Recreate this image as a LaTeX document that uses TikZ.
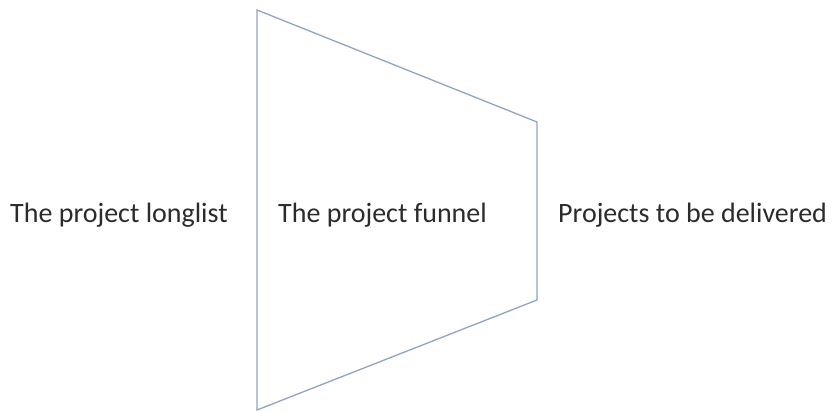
\documentclass[tikz,border=0pt]{standalone}
\usepackage{fontspec}
\setmainfont{Carlito}
\begin{document}
\begin{tikzpicture}[x=1pt,y=-1pt,
  edge/.style={draw=funnelblue, line width=1.3pt, line join=miter},
  label/.style={font=\fontsize{28}{32}\selectfont, text=labelgray, anchor=base west, inner sep=0pt}]
\definecolor{funnelblue}{HTML}{8FA3C4}
\definecolor{labelgray}{HTML}{2B2B2B}
\useasboundingbox (0,0) rectangle (835,412);
% funnel outline
\coordinate (tl) at (257,10);
\coordinate (tr) at (537,122);
\coordinate (br) at (537,300);
\coordinate (bl) at (257,410);
\draw[edge] (tl) -- (tr) -- (br) -- (bl) -- cycle;
% labels
\node[label] (longlist) at (10,222) {The project longlist};
\node[label] (funnel) at (278,222) {The project funnel};
\node[label] (delivered) at (558,222) {Projects to be delivered};
\end{tikzpicture}
\end{document}
